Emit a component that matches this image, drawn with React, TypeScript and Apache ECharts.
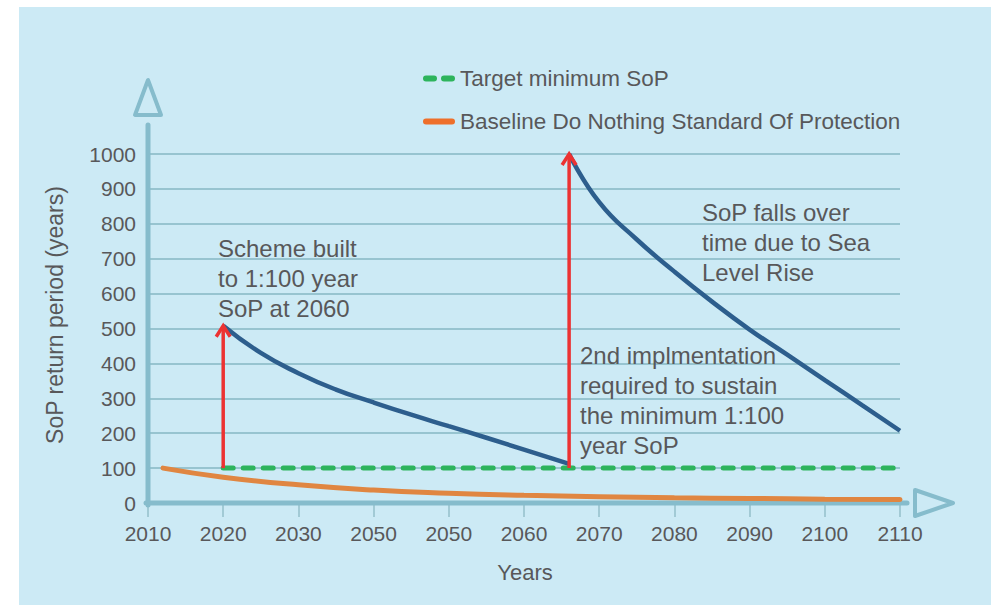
import React, { useEffect, useRef } from "react";
import * as echarts from "echarts";

// ---- data ----
const xTickValues = [2010, 2020, 2030, 2040, 2050, 2060, 2070, 2080, 2090, 2100, 2110];
const xTickLabels = ["2010", "2020", "2030", "2050", "2050", "2060", "2070", "2080", "2090", "2100", "2110"];

const targetYears = [2020, 2110];
const targetSop = [100, 100];

const baselineYears = [2012, 2020, 2030, 2040, 2050, 2060, 2070, 2080, 2090, 2100, 2110];
const baselineSop = [100, 74, 52, 37, 28, 22, 18, 15, 13, 11, 10];

const scheme1Years = [2020, 2025, 2030, 2035, 2040, 2045, 2050, 2055, 2060, 2066];
const scheme1Sop = [508, 430, 372, 325, 288, 253, 220, 187, 153, 112];

const scheme2Years = [2066, 2070, 2075, 2080, 2085, 2090, 2095, 2100, 2105, 2110];
const scheme2Sop = [1000, 862, 755, 663, 577, 497, 425, 352, 280, 207];

const arrowYears = [2020, 2066];
const arrowFrom = [100, 100];
const arrowTo = [508, 1000];

const seriesNames = ["Target minimum SoP", "Baseline Do Nothing Standard Of Protection"];
const yAxisTitle = "SoP return period (years)";
const xAxisTitle = "Years";
const note1 = "Scheme built\nto 1:100 year\nSoP at 2060";
const note2 = "SoP falls over\ntime due to Sea\nLevel Rise";
const note3 = "2nd implmentation\nrequired to sustain\nthe minimum 1:100\nyear SoP";

const FONT = "'Liberation Sans', Arial, Helvetica, sans-serif";
const TEXT = "#58585a";
const AXIS = "#86bccc";
const GRIDC = "#97c4d0";
const BLUE = "#2d5e8d";
const ORANGE = "#e08641";
const GREEN = "#2db45c";
const RED = "#ec3232";

const zip = (a: number[], b: number[]) => a.map((v, i) => [v, b[i]]);

export default function App() {
  const ref = useRef<HTMLDivElement>(null);
  useEffect(() => {
    if (!ref.current) return;
    const chart = echarts.init(ref.current, undefined, { renderer: "svg" });
    chart.setOption({
      animation: false,
      textStyle: { fontFamily: FONT },
      grid: { left: 148, right: 91, top: 154, bottom: 102, containLabel: false, outerBoundsMode: "none" },
      legend: {
        orient: "vertical",
        left: 418,
        top: 61,
        itemWidth: 32,
        itemHeight: 6,
        itemGap: 18,
        selectedMode: false,
        textStyle: { fontSize: 22.5, color: TEXT, fontFamily: FONT, lineHeight: 25 },
        data: [
          {
            name: seriesNames[0],
            icon: "path://M3,0 H11 A3,3 0 0 1 11,6 H3 A3,3 0 0 1 3,0 Z M21,0 H29 A3,3 0 0 1 29,6 H21 A3,3 0 0 1 21,0 Z",
            itemStyle: { color: GREEN },
          },
          {
            name: seriesNames[1],
            icon: "path://M3,0 H29 A3,3 0 0 1 29,6 H3 A3,3 0 0 1 3,0 Z",
            itemStyle: { color: "#ee6f2a" },
          },
        ],
      },
      xAxis: {
        type: "value",
        min: 2010,
        max: 2110,
        interval: 10,
        axisLine: { show: false },
        axisTick: { show: true, length: 14, lineStyle: { color: "#a2cad5", width: 2 } },
        splitLine: { show: false },
        axisLabel: {
          margin: 20,
          fontSize: 21,
          color: TEXT,
          fontFamily: FONT,
          formatter: (v: number) => {
            const i = xTickValues.indexOf(v);
            return i >= 0 ? xTickLabels[i] : "";
          },
        },
      },
      yAxis: {
        type: "value",
        min: 0,
        max: 1000,
        interval: 100,
        axisLine: { show: false },
        axisTick: { show: false },
        splitLine: { show: true, lineStyle: { color: GRIDC, width: 2 } },
        axisLabel: { margin: 12, fontSize: 21, color: TEXT, fontFamily: FONT, formatter: (v: number) => String(v) },
      },
      series: [
        {
          name: seriesNames[0],
          type: "line",
          data: zip(targetYears, targetSop),
          symbol: "none",
          lineStyle: { color: GREEN, width: 5, type: [10, 10], cap: "round" },
          itemStyle: { color: GREEN },
          z: 3,
        },
        {
          name: seriesNames[1],
          type: "line",
          data: zip(baselineYears, baselineSop),
          symbol: "none",
          smooth: 0.5,
          lineStyle: { color: ORANGE, width: 5, cap: "round" },
          itemStyle: { color: ORANGE },
          z: 3,
        },
        {
          name: "scheme1",
          type: "line",
          data: zip(scheme1Years, scheme1Sop),
          symbol: "none",
          smooth: 0.5,
          lineStyle: { color: BLUE, width: 4.5 },
          z: 4,
        },
        {
          name: "scheme2",
          type: "line",
          data: zip(scheme2Years, scheme2Sop),
          symbol: "none",
          smooth: 0.5,
          lineStyle: { color: BLUE, width: 4.5 },
          z: 4,
        },
        {
          name: "arrows",
          type: "custom",
          data: arrowYears.map((y, i) => [y, arrowFrom[i], arrowTo[i]]),
          encode: { x: 0, y: [1, 2] },
          z: 5,
          renderItem: (_p: any, api: any) => {
            const p0 = api.coord([api.value(0), api.value(1)]);
            const p1 = api.coord([api.value(0), api.value(2)]);
            return {
              type: "group",
              children: [
                {
                  type: "line",
                  shape: { x1: p0[0], y1: p0[1], x2: p1[0], y2: p1[1] + 2 },
                  style: { stroke: RED, lineWidth: 3.5 },
                },
                {
                  type: "polyline",
                  shape: { points: [[p1[0] - 7, p1[1] + 11], [p1[0], p1[1]], [p1[0] + 7, p1[1] + 11]] },
                  style: { stroke: RED, lineWidth: 3.5, fill: "none" },
                },
              ],
            };
          },
        },
      ],
    });

    const o = chart.convertToPixel({ gridIndex: 0 }, [2010, 0]) as number[];
    const e = chart.convertToPixel({ gridIndex: 0 }, [2110, 1000]) as number[];
    const ox = o[0], oy = o[1], ex = e[0], ty = e[1];
    const yTop = ty - 29;
    const xEnd = ex + 7;
    chart.setOption({
      graphic: [
        { type: "line", z: 1, shape: { x1: ox, y1: oy + 2, x2: ox, y2: yTop }, style: { stroke: AXIS, lineWidth: 5, lineCap: "round" } },
        { type: "line", z: 1, shape: { x1: ox - 2, y1: oy, x2: xEnd, y2: oy }, style: { stroke: AXIS, lineWidth: 5, lineCap: "round" } },
        {
          type: "polygon",
          z: 1,
          shape: { points: [[ox, yTop - 45], [ox - 13, yTop - 10], [ox + 13, yTop - 10]] },
          style: { stroke: AXIS, lineWidth: 4, fill: "none", lineJoin: "round" },
        },
        {
          type: "polygon",
          z: 1,
          shape: { points: [[xEnd + 8, oy - 13], [xEnd + 46, oy], [xEnd + 8, oy + 13]] },
          style: { stroke: AXIS, lineWidth: 4, fill: "none", lineJoin: "round" },
        },
        {
          type: "text",
          x: 55,
          y: 315,
          rotation: Math.PI / 2,
          style: { text: yAxisTitle, font: `23px ${FONT}`, fill: TEXT, align: "center", verticalAlign: "middle" },
        },
        {
          type: "text",
          x: 525,
          y: 572,
          style: { text: xAxisTitle, font: `22px ${FONT}`, fill: TEXT, align: "center", verticalAlign: "middle" },
        },
        {
          type: "text",
          x: 218,
          y: 233,
          style: { text: note1, font: `24px ${FONT}`, fill: TEXT, lineHeight: 30, verticalAlign: "top" },
        },
        {
          type: "text",
          x: 702,
          y: 197,
          style: { text: note2, font: `24px ${FONT}`, fill: TEXT, lineHeight: 30, verticalAlign: "top" },
        },
        {
          type: "text",
          x: 580,
          y: 340,
          style: { text: note3, font: `24px ${FONT}`, fill: TEXT, lineHeight: 30, verticalAlign: "top" },
        },
      ],
    });
    return () => chart.dispose();
  }, []);

  return (
    <div style={{ position: "absolute", left: 0, top: 0, width: 991, height: 605, background: "#ffffff" }}>
      <div style={{ position: "absolute", left: 19, top: 7, right: 0, bottom: 0, background: "#cceaf5" }} />
      <div ref={ref} style={{ position: "absolute", left: 0, top: 0, width: 991, height: 605 }} />
    </div>
  );
}
